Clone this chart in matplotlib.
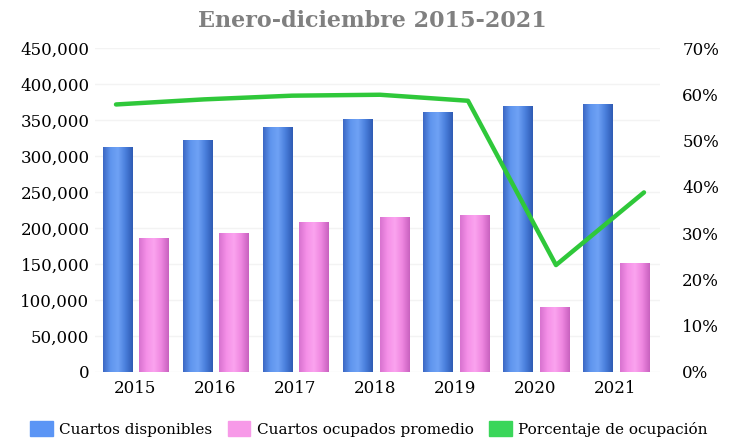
import numpy as np
import matplotlib
matplotlib.use("Agg")
import matplotlib.pyplot as plt
from matplotlib.patches import Patch
from matplotlib.colors import LinearSegmentedColormap

years = ["2015", "2016", "2017", "2018", "2019", "2020", "2021"]
disponibles = [312500, 322000, 339000, 351000, 361000, 369000, 372000]
ocupados = [186000, 193000, 207000, 214000, 218000, 90000, 151000]
porcentaje = [57.8, 58.9, 59.7, 59.9, 58.6, 23.1, 38.8]
left_ticks = [0, 50000, 100000, 150000, 200000, 250000, 300000, 350000, 400000, 450000]
right_ticks = [0, 10, 20, 30, 40, 50, 60, 70]

plt.rcParams['font.family'] = ['DejaVu Serif']

fig = plt.figure(figsize=(7.3, 4.46), dpi=100)
pos = [95/730, 1-372/446, 565/730, 324/446]
ax = fig.add_axes(pos)
x = np.arange(len(years))
w = 0.37
off = 0.22

blue_cmap = LinearSegmentedColormap.from_list("b", ["#3c68c4", "#5f95ee", "#6fa2f5", "#4a7fdc", "#2f5bb4"])
pink_cmap = LinearSegmentedColormap.from_list("p", ["#d873cf", "#f590e8", "#fba4ef", "#ee86e0", "#c862bf"])
grad = np.linspace(0, 1, 64).reshape(1, -1)

b1 = ax.bar(x - off, disponibles, width=w, color="#5b8fe8", zorder=2)
b2 = ax.bar(x + off + 0.02, ocupados, width=w, color="#f392e6", zorder=2)
for bars, cm in ((b1, blue_cmap), (b2, pink_cmap)):
    for r in bars:
        x0, h, ww = r.get_x(), r.get_height(), r.get_width()
        ax.imshow(grad, cmap=cm, extent=[x0, x0 + ww, 0, h], aspect='auto', zorder=3)

ax.set_xlim(-0.5, 6.56)
ax.set_ylim(0, 450000)
ax.set_yticks(left_ticks)
ax.set_yticklabels([f"{v:,}" for v in left_ticks], fontsize=12)
ax.set_xticks(x)
ax.set_xticklabels(years, fontsize=12)
ax.tick_params(axis='y', length=0, pad=4)
ax.tick_params(axis='x', length=0, pad=6)
for s in ax.spines.values():
    s.set_visible(False)
ax.yaxis.grid(True, color="#f3f3f3", lw=1, zorder=0)
ax.set_axisbelow(True)

ax2 = fig.add_axes(pos, frameon=False)
ax2.set_xlim(-0.2386, 6.182)
ax2.plot(x, porcentaje, color="#2fc83a", lw=3.2, zorder=5, solid_capstyle='round')
ax2.set_ylim(0, 70)
ax2.set_xticks([])
ax2.yaxis.tick_right()
ax2.set_yticks(right_ticks)
ax2.set_yticklabels([f"{v}%" for v in right_ticks], fontsize=12)
ax2.tick_params(length=0, pad=16)

fig.text(0.51, 0.952, "Enero-diciembre 2015-2021", ha='center', va='center',
         fontsize=16, fontweight='bold', color="#808080")

handles = [Patch(color="#5b95f5"), Patch(color="#f79ae8"), Patch(color="#3ad65a")]
labels = ["Cuartos disponibles", "Cuartos ocupados promedio", "Porcentaje de ocupación"]
fig.legend(handles, labels, loc='lower center', bbox_to_anchor=(0.505, -0.01), ncol=3,
           frameon=False, fontsize=11, handlelength=1.5, handleheight=1.2,
           handletextpad=0.4, columnspacing=1.0)

fig.savefig("out.png", dpi=100)
